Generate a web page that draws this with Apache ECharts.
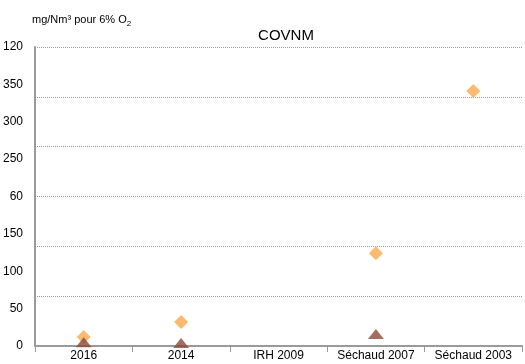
<!DOCTYPE html>
<html><head><meta charset="utf-8">
<script src="https://cdn.jsdelivr.net/npm/echarts@6/dist/echarts.min.js"></script>
<style>html,body{margin:0;padding:0;background:#fff}#c{width:525px;height:364px}</style>
</head><body><div id="c"></div>
<script>
const categories = ['2016', '2014', 'IRH 2009', 'Séchaud 2007', 'Séchaud 2003'];
const seriesA = [12, 32, null, 124, 341];
const seriesB = [5, 4, null, 16, null];
const tickLabels = ['0', '50', '100', '150', '60', '250', '300', '350', '120'];
const FONT = '"Liberation Sans Narrow", "Liberation Sans", Arial, sans-serif';
const chart = echarts.init(document.getElementById('c'));
chart.setOption({
  animation: false,
  title: {
    text: 'COVNM', left: 281, top: 23, textAlign: 'center',
    textStyle: {fontFamily: FONT, fontSize: 15, fontWeight: 'normal', color: '#000'}
  },
  graphic: [{
    type: 'text', left: 32, top: 11,
    style: {
      text: '{a|mg/Nm³ pour 6% O}{s|2}',
      rich: {
        a: {fontFamily: FONT, fontSize: 11, fill: '#000', lineHeight: 14},
        s: {fontFamily: FONT, fontSize: 8, fill: '#000', lineHeight: 14, padding: [9, 0, 0, 0]}
      }
    }
  }],
  grid: {left: 35, right: 3, top: 47, bottom: 18},
  xAxis: {
    type: 'category', data: categories, boundaryGap: true,
    axisLine: {lineStyle: {color: '#9a9a9a', width: 2}},
    axisTick: {show: true, length: 6, lineStyle: {color: '#9a9a9a'}},
    axisLabel: {fontFamily: FONT, fontSize: 12, color: '#000', margin: 4, interval: 0}
  },
  yAxis: [{
    type: 'value', min: 0, max: 400, interval: 50,
    axisLine: {show: true, lineStyle: {color: '#9a9a9a', width: 2}},
    axisTick: {show: false},
    splitLine: {show: false},
    axisLabel: {fontFamily: FONT, fontSize: 12, color: '#000', margin: 12,
      formatter: function (v) { return tickLabels[Math.round(v / 50)]; }}
  }, {
    type: 'value', min: 0, max: 120, interval: 20, position: 'left',
    axisLine: {show: false}, axisTick: {show: false}, axisLabel: {show: false},
    splitLine: {show: true, lineStyle: {color: '#999', type: [1, 1], width: 1}}
  }],
  series: [{
    type: 'scatter', data: seriesA, symbol: 'diamond', symbolSize: [14, 14],
    itemStyle: {color: '#F9A94B'}
  }, {
    type: 'scatter', data: seriesB, symbol: 'triangle', symbolSize: [16, 10],
    itemStyle: {color: '#8B4A38'}
  }]
});
</script></body></html>
